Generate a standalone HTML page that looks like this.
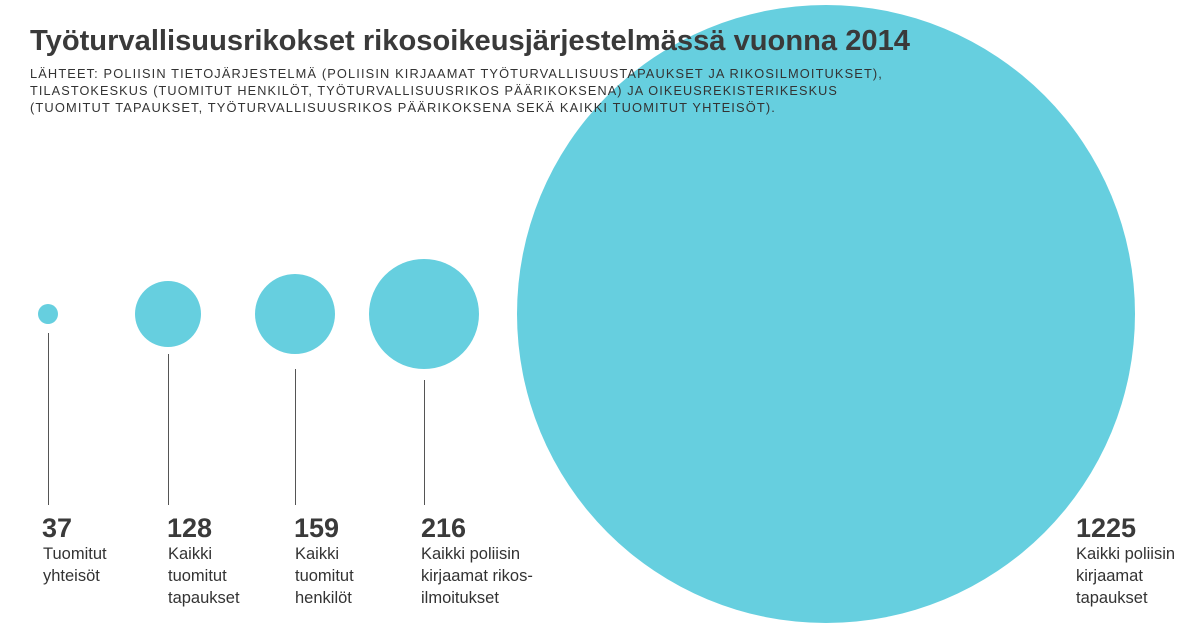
<!DOCTYPE html>
<html><head><meta charset="utf-8"><style>
html,body{margin:0;padding:0;background:#fff;}
body{width:1200px;height:627px;overflow:hidden;position:relative;font-family:"Liberation Sans",sans-serif;color:#333;}
svg{position:absolute;left:0;top:0;}
</style></head><body>
<svg width="1200" height="627" viewBox="0 0 1200 627" font-family="Liberation Sans, sans-serif">
<circle cx="826" cy="314" r="309" fill="#66cfdf"/>
<circle cx="48" cy="314" r="10" fill="#66cfdf"/>
<circle cx="168" cy="314" r="33" fill="#66cfdf"/>
<circle cx="295" cy="314" r="40" fill="#66cfdf"/>
<circle cx="424" cy="314" r="55" fill="#66cfdf"/>
<g stroke="#555" stroke-width="1">
<line x1="48.5" y1="333" x2="48.5" y2="505"/>
<line x1="168.5" y1="354" x2="168.5" y2="505"/>
<line x1="295.5" y1="369" x2="295.5" y2="505"/>
<line x1="424.5" y1="380" x2="424.5" y2="505"/>
</g>
<text x="30" y="50" font-size="29" font-weight="bold" fill="#3a3a3a" textLength="880" lengthAdjust="spacingAndGlyphs">Työturvallisuusrikokset rikosoikeusjärjestelmässä vuonna 2014</text>
<g font-size="12.5" fill="#333" letter-spacing="1.1">
<text x="30" y="78" textLength="853" lengthAdjust="spacingAndGlyphs">LÄHTEET: POLIISIN TIETOJÄRJESTELMÄ (POLIISIN KIRJAAMAT TYÖTURVALLISUUSTAPAUKSET JA RIKOSILMOITUKSET),</text>
<text x="30" y="95" textLength="808" lengthAdjust="spacingAndGlyphs">TILASTOKESKUS (TUOMITUT HENKILÖT, TYÖTURVALLISUUSRIKOS PÄÄRIKOKSENA) JA OIKEUSREKISTERIKESKUS</text>
<text x="30" y="112" textLength="746" lengthAdjust="spacingAndGlyphs">(TUOMITUT TAPAUKSET, TYÖTURVALLISUUSRIKOS PÄÄRIKOKSENA SEKÄ KAIKKI TUOMITUT YHTEISÖT).</text>
</g>
<g font-size="27" font-weight="bold" fill="#3a3a3a">
<text x="42" y="537">37</text>
<text x="167" y="537">128</text>
<text x="294" y="537">159</text>
<text x="421" y="537">216</text>
<text x="1076" y="537">1225</text>
</g>
<g font-size="16.5" fill="#333">
<text x="43" y="559">Tuomitut</text><text x="43" y="581">yhteisöt</text>
<text x="168" y="559">Kaikki</text><text x="168" y="581">tuomitut</text><text x="168" y="603">tapaukset</text>
<text x="295" y="559">Kaikki</text><text x="295" y="581">tuomitut</text><text x="295" y="603">henkilöt</text>
<text x="421" y="559">Kaikki poliisin</text><text x="421" y="581">kirjaamat rikos-</text><text x="421" y="603">ilmoitukset</text>
<text x="1076" y="559">Kaikki poliisin</text><text x="1076" y="581">kirjaamat</text><text x="1076" y="603">tapaukset</text>
</g>
</svg>
</body></html>
